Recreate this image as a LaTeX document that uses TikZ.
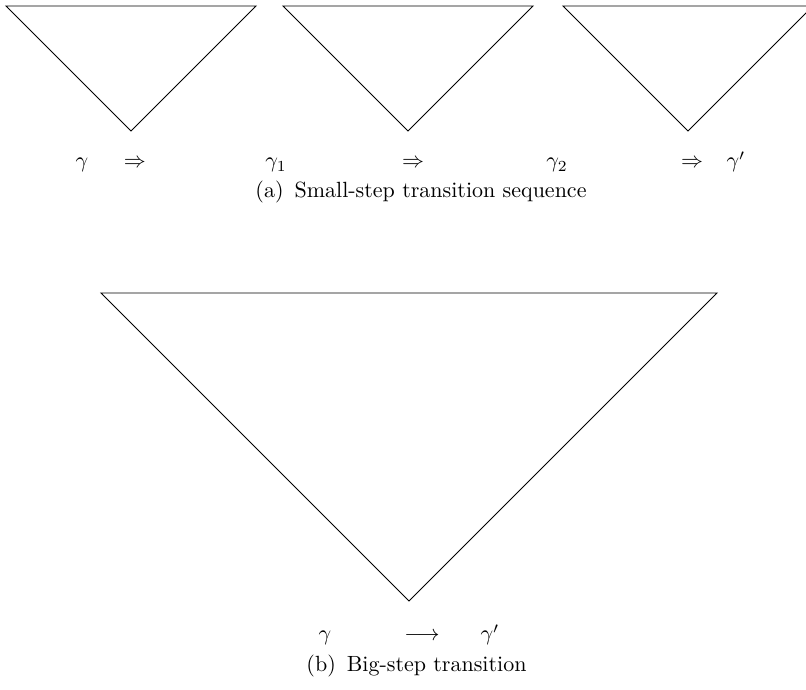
\documentclass[tikz,border=0pt]{standalone}
\usepackage{amsmath,amssymb}
\usepackage{tikz}
\usetikzlibrary{positioning,calc}
\tikzset{
  % Inverted triangle, thin black stroke.
  tri/.style = {draw=black, line width=0.45pt, line join=miter},
  lbl/.style = {anchor=base, inner sep=0pt},
  captxt/.style = {anchor=base, inner sep=0pt, align=center},
}

\begin{document}
\begin{tikzpicture}[x=0.4545pt,y=-0.4545pt]
\useasboundingbox (0,0) rectangle (806,690);
\clip (0,0) rectangle (806,690);
% small steps
\foreach \x in {131,408,688} {\draw[tri] (\x-125,6) -- (\x+125,6) -- (\x,131) -- cycle;}
\node[lbl] (g0) at (82,168) {$\gamma$};
\node[lbl] (s1) at (135,168) {$\Rightarrow$};
\node[lbl] (g1) at (276,168) {$\gamma_1$};
\node[lbl] (s2) at (413,168) {$\Rightarrow$};
\node[lbl] (g2) at (557,168) {$\gamma_2$};
\node[lbl] (s3) at (692,168) {$\Rightarrow$};
\node[lbl] (g3) at (736,168) {$\gamma'$};
\node[captxt] (capa) at (421,198) {(a)\enspace Small-step transition sequence};
% big step
\draw[tri] (101,293) -- (717,293) -- (409,601) -- cycle;
\node[lbl] (b0) at (325,641) {$\gamma$};
\node[lbl] (bs) at (422,641) {$\longrightarrow$};
\node[lbl] (b1) at (490,641) {$\gamma'$};
\node[captxt] (capb) at (416.5,672) {(b)\enspace Big-step transition};
\end{tikzpicture}
\end{document}
